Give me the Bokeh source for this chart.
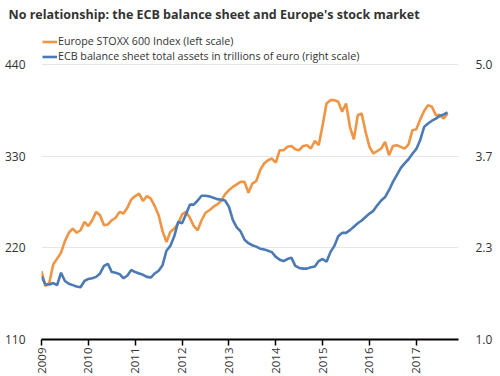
from bokeh.plotting import figure
from bokeh.models import (Range1d, LinearAxis, FixedTicker, NumeralTickFormatter,
                          Legend, LegendItem, ColumnDataSource, Title)
from bokeh.embed import file_html
from bokeh.resources import INLINE

# ---- data (monthly, Jan 2009 .. Sep 2017) ----
start_year = 2009
stoxx = [192, 174, 178, 200, 207, 214, 228, 238, 243, 238, 241, 251,
         246, 253, 263, 259, 247, 248, 253, 256, 263, 261, 268, 278,
         282, 285, 276, 282, 279, 270, 259, 240, 227, 239, 243, 249,
         260, 263, 256, 246, 241, 253, 262, 265, 269, 272, 276, 284,
         289, 293, 296, 299, 299, 286, 297, 300, 313, 321, 325, 327,
         322, 337, 337, 341, 342, 338, 337, 342, 343, 339, 348, 343,
         367, 393, 397, 397, 395, 383, 393, 365, 350, 379, 381, 359,
         341, 333, 336, 339, 347, 331, 342, 343, 341, 339, 344, 361,
         362, 374, 384, 391, 389, 379, 379, 375, 381]
ecb = [1.92, 1.80, 1.80, 1.82, 1.79, 1.97, 1.85, 1.81, 1.79, 1.77, 1.76, 1.85,
       1.88, 1.89, 1.91, 1.96, 2.07, 2.10, 1.98, 1.97, 1.95, 1.89, 1.93, 2.01,
       1.98, 1.96, 1.94, 1.91, 1.90, 1.96, 2.00, 2.08, 2.29, 2.36, 2.50, 2.71,
       2.69, 2.82, 2.96, 2.96, 3.02, 3.09, 3.09, 3.08, 3.06, 3.04, 3.03, 3.02,
       2.93, 2.74, 2.63, 2.57, 2.45, 2.40, 2.37, 2.35, 2.32, 2.31, 2.29, 2.27,
       2.20, 2.16, 2.14, 2.17, 2.19, 2.07, 2.04, 2.03, 2.03, 2.05, 2.06, 2.14,
       2.17, 2.13, 2.27, 2.36, 2.50, 2.55, 2.55, 2.59, 2.64, 2.69, 2.73, 2.78,
       2.83, 2.87, 2.95, 3.02, 3.07, 3.17, 3.29, 3.39, 3.49, 3.56, 3.62, 3.70,
       3.77, 3.90, 4.09, 4.14, 4.18, 4.21, 4.25, 4.27, 4.30]
year_ticks = [2009, 2010, 2011, 2012, 2013, 2014, 2015, 2016, 2017]
left_ticks = [110, 220, 330, 440]
right_ticks = [1.0, 2.3333, 3.6667, 5.0]
title_text = "No relationship: the ECB balance sheet and Europe's stock market"
legend_labels = ["Europe STOXX 600 Index (left scale)",
                 "ECB balance sheet total assets in trillions of euro (right scale)"]

months = [start_year + i / 12 for i in range(len(stoxx))]
src = ColumnDataSource(dict(x=months, stoxx=stoxx, ecb=ecb))

ORANGE = "#EF9544"
BLUE = "#4C7AB4"
TXT = "#333333"
FONT = "Open Sans"

# frame spans canvas y 28..339; the scale 110..440 occupies y 62..339,
# the space above 440 holds the legend
TOP_PX, GRID_TOP_PX, BOTTOM_PX = 28, 62, 339
head = (GRID_TOP_PX - TOP_PX) / (BOTTOM_PX - GRID_TOP_PX)
left_lo, left_hi = 110, 440
right_lo, right_hi = 1.0, 5.0

p = figure(width=500, height=376, output_backend="svg", toolbar_location=None,
           x_range=Range1d(2009, 2017.9),
           y_range=Range1d(left_lo, left_hi + head * (left_hi - left_lo)),
           min_border_left=41, min_border_right=42, min_border_top=TOP_PX,
           min_border_bottom=37)
p.outline_line_color = None
p.background_fill_color = "white"
p.border_fill_color = "white"
p.extra_y_ranges = {"right": Range1d(right_lo, right_hi + head * (right_hi - right_lo))}

# gridlines
p.xgrid.visible = False
p.ygrid.ticker = FixedTicker(ticks=left_ticks)
p.ygrid.grid_line_color = "#e6e6e6"
p.ygrid.grid_line_width = 1

# bottom axis
xa = p.xaxis[0]
xa.ticker = FixedTicker(ticks=year_ticks)
xa.axis_line_color = "black"
xa.axis_line_width = 2
xa.major_tick_line_color = "black"
xa.major_tick_line_width = 1.5
xa.major_tick_out = 6
xa.major_tick_in = 0
xa.minor_tick_line_color = None
xa.major_label_orientation = 1.5708
xa.major_label_standoff = 2
xa.major_label_text_font = FONT
xa.major_label_text_font_size = "11.5px"
xa.major_label_text_color = TXT

# left axis
ya = p.yaxis[0]
ya.ticker = FixedTicker(ticks=left_ticks)
ya.axis_line_color = None
ya.major_tick_line_color = None
ya.minor_tick_line_color = None
ya.major_label_standoff = 10
ya.major_label_text_font = FONT
ya.major_label_text_font_size = "12px"
ya.major_label_text_color = TXT

# right axis
ra = LinearAxis(y_range_name="right", ticker=FixedTicker(ticks=right_ticks),
                formatter=NumeralTickFormatter(format="0.0"))
ra.axis_line_color = None
ra.major_tick_line_color = None
ra.minor_tick_line_color = None
ra.major_label_standoff = 11
ra.major_label_text_font = FONT
ra.major_label_text_font_size = "12px"
ra.major_label_text_color = TXT
p.add_layout(ra, "right")

r1 = p.line("x", "stoxx", source=src, color=ORANGE, line_width=2.6)
r2 = p.line("x", "ecb", source=src, color=BLUE, line_width=2.6, y_range_name="right")

frame_h = BOTTOM_PX - TOP_PX
legend = Legend(items=[LegendItem(label=legend_labels[0], renderers=[r1]),
                       LegendItem(label=legend_labels[1], renderers=[r2])],
                location=(1, frame_h - (63.5 - TOP_PX)), orientation="vertical",
                padding=0, spacing=0, margin=0,
                glyph_width=15, glyph_height=15, label_height=15,
                label_standoff=1, border_line_color=None,
                background_fill_alpha=0,
                label_text_font=FONT, label_text_font_size="10.7px",
                label_text_color=TXT)
p.add_layout(legend, "center")

p.title = Title(text=title_text, align="left", offset=-33, standoff=11,
                vertical_align="top",
                text_font=FONT, text_font_size="12.5px", text_font_style="bold",
                text_color=TXT)

open("out.html", "w").write(file_html(p, INLINE))
